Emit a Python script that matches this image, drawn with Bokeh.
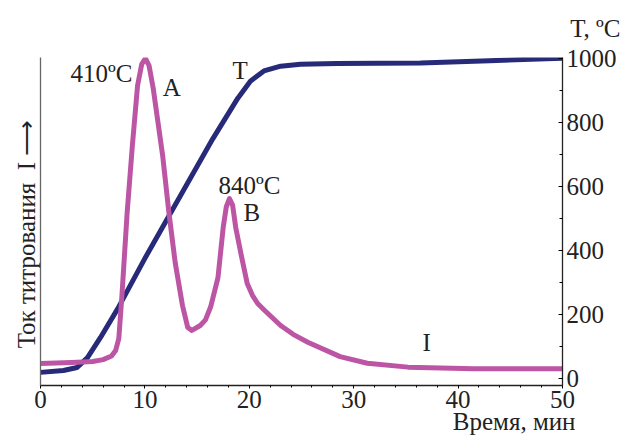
from bokeh.plotting import figure
from bokeh.models import Range1d, LinearAxis, SingleIntervalTicker, FixedTicker, Label, Title
from bokeh.embed import file_html
from bokeh.resources import INLINE

# Temperature curve T (right axis, °C)
t_time = [0, 2.2, 3.5, 4.5, 5.75, 7.4, 10, 12, 14, 16.5, 18.9, 20.1, 21.4, 23, 24.9, 28.4, 36.4, 43, 50]
t_vals = [19, 25, 34, 65, 128, 218, 375, 490, 605, 748, 875, 928, 960, 975, 981, 983, 985, 992, 1000]

# Titration current I (arbitrary units, left axis)
i_time = [0, 3, 5, 6, 6.8, 7.2, 7.5, 7.8, 8.3, 8.8, 9.3, 9.7, 10.05, 10.4, 10.8, 11.7, 12.3, 12.9,
          13.6, 14.1, 14.5, 15.3, 15.8, 16.3, 17.0, 17.5, 17.8, 18.1, 18.4, 18.7, 19.2, 19.8, 20.3,
          20.8, 21.5, 23.0, 24.2, 25.6, 28.7, 31.3, 35.2, 41.5, 50]
i_vals = [6.7, 7.0, 7.3, 7.9, 9.0, 10.7, 14.3, 27.4, 52.7, 73.2, 91.5, 98.0, 99.7, 97.5, 90.5, 70.1, 52.7, 37.5,
          24.4, 17.7, 16.8, 18.3, 20.0, 24.0, 32.9, 48.2, 54.5, 57.0, 55.0, 48.2, 40.2, 31.1, 27.5,
          25.0, 22.8, 18.3, 15.6, 13.2, 8.8, 6.8, 5.6, 5.1, 5.1]

x_label = "Время, мин"
i_label = "Ток титрования \u00a0I ⟶\u2003"
t_label = "T, ºC"

FONT = "Liberation Serif"
NAVY = "#262a78"
MAG = "#bd55a5"
TXT = "#222222"

p = figure(width=622, height=437, output_backend="svg", toolbar_location=None,
           x_range=Range1d(0, 50), y_range=Range1d(-22, 1002), y_axis_location="right",
           min_border_left=40, min_border_right=60, min_border_top=57, min_border_bottom=52)
p.extra_y_ranges = {"I": Range1d(0, 100)}
p.outline_line_color = None
p.xgrid.visible = False
p.ygrid.visible = False

# bottom axis
xa = p.xaxis[0]
xa.ticker = SingleIntervalTicker(interval=10, num_minor_ticks=5)
xa.major_label_text_font = FONT
xa.major_label_text_font_size = "25px"
xa.major_label_text_color = TXT
xa.major_tick_in = 0
xa.major_tick_out = 3
xa.minor_tick_in = 0
xa.minor_tick_out = 2
xa.major_label_standoff = 2
xa.axis_line_color = TXT
xa.axis_line_width = 1.3

# x-axis title, right-aligned below the axis
xt = Title(text=x_label, align="right", offset=-13, standoff=-10, vertical_align="bottom",
           text_font=FONT, text_font_size="25px", text_font_style="normal", text_color=TXT)
p.add_layout(xt, "below")

# right axis (temperature)
ya = p.yaxis[0]
ya.ticker = SingleIntervalTicker(interval=200, num_minor_ticks=2)
ya.major_label_text_font = FONT
ya.major_label_text_font_size = "25px"
ya.major_label_text_color = TXT
ya.major_tick_in = 4
ya.major_tick_out = 0
ya.minor_tick_in = 3
ya.minor_tick_out = 0
ya.major_label_standoff = 4
ya.axis_line_color = TXT
ya.axis_line_width = 1.3

# left axis (current) - line and title only
la = LinearAxis(y_range_name="I", ticker=FixedTicker(ticks=[]))
la.major_tick_line_color = None
la.minor_tick_line_color = None
la.major_label_text_font_size = "0px"
la.axis_line_color = "#666666"
la.axis_line_width = 1.3
la.axis_label = i_label
la.axis_label_text_font = FONT
la.axis_label_text_font_size = "25px"
la.axis_label_text_font_style = "normal"
la.axis_label_text_color = TXT
la.axis_label_standoff = 1
p.add_layout(la, "left")

# temperature unit title at top right
tt = Title(text=t_label, align="right", offset=-58, standoff=28, vertical_align="top",
           text_font=FONT, text_font_size="25px", text_font_style="normal", text_color=TXT)
p.add_layout(tt, "above")

p.line(t_time, t_vals, line_color=NAVY, line_width=5, line_cap="round", line_join="round")
p.line(i_time, i_vals, line_color=MAG, line_width=5, line_cap="round", line_join="round", y_range_name="I")

def lab(x, y, text, align="left"):
    p.add_layout(Label(x=x, y=y, text=text, text_font=FONT, text_font_size="25px",
                       text_color=TXT, text_align=align, text_baseline="alphabetic"))

lab(8.8, 953, "410ºC", align="right")
lab(11.7, 907, "A")
lab(18.4, 960, "T")
lab(17.05, 601, "840ºC")
lab(19.45, 517, "B")
lab(36.6, 112, "I")

open("out.html", "w").write(file_html(p, INLINE))
